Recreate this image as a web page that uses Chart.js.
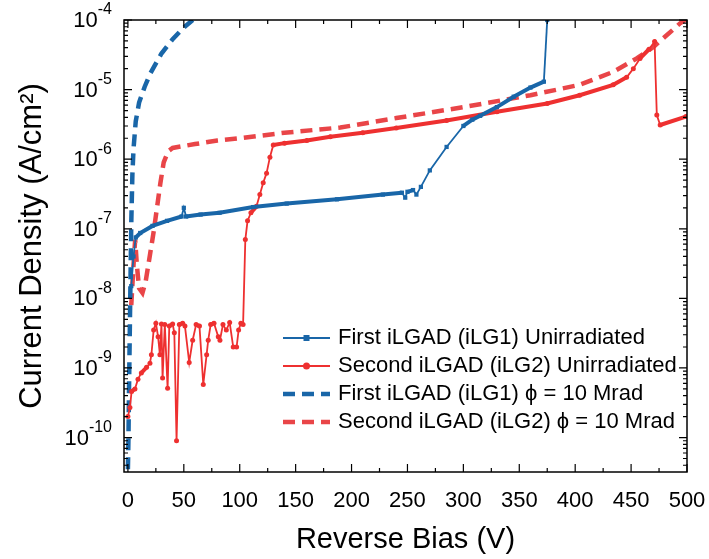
<!DOCTYPE html>
<html>
<head>
<meta charset="utf-8">
<script src="https://cdn.jsdelivr.net/npm/chart.js@4.4.1/dist/chart.umd.min.js"></script>
<style>
  body { margin: 0; background: #fff; }
</style>
</head>
<body>
<canvas id="ivCurve" width="709" height="559"></canvas>
<script>
// tick values
const xTicks = [0, 50, 100, 150, 200, 250, 300, 350, 400, 450, 500];
const yExps  = [-10, -9, -8, -7, -6, -5, -4];

// First iLGAD (iLG1) Unirradiated
const biasFirst = [3, 5, 7, 11, 22, 35, 48, 50, 52, 65, 82, 112, 142, 187, 228, 245, 248, 250, 255, 258, 262,
                   270, 285, 300, 308, 315, 330, 345, 360, 372, 375];
const currFirst = [1.5e-8, 4e-8, 7.5e-8, 8.7e-8, 1.1e-7, 1.3e-7, 1.5e-7, 2e-7, 1.5e-7, 1.6e-7, 1.7e-7, 2.05e-7,
                   2.3e-7, 2.65e-7, 3.1e-7, 3.3e-7, 2.8e-7, 3.4e-7, 3.6e-7, 3.1e-7, 4e-7,
                   6.9e-7, 1.5e-6, 3.0e-6, 3.7e-6, 4.2e-6, 5.6e-6, 7.9e-6, 1.07e-5, 1.3e-5, 1e-4];

// Second iLGAD (iLG2) Unirradiated
const biasSecond = [0, 1.8, 3.3, 6.3, 9, 12, 16.7, 19.7, 21, 23, 25, 27, 28.6, 30, 31, 33, 35.5, 37, 40, 41.5,
                    43.5, 46, 49, 51, 54.8, 57.9, 61, 64, 67.4, 70.4, 71.8, 74, 77, 80.8, 82.3, 85, 88, 91,
                    94.2, 97.2, 99, 101, 103, 105, 107, 110, 115, 118, 121, 124, 127, 130, 140, 160, 181,
                    210, 240, 285, 330, 375, 404, 434, 446, 452, 458, 466, 471, 473, 476, 499];
const currSecond = [2e-10, 2.7e-10, 4.6e-10, 5e-10, 6.9e-10, 8.5e-10, 1.02e-9, 1.17e-9, 1.55e-9, 3.5e-9, 4.4e-9,
                    2.8e-9, 1.55e-9, 4.3e-9, 7.2e-10, 4.2e-9, 5.1e-10, 4e-9, 4.3e-9, 3.2e-9,
                    9e-11, 4.2e-9, 4.4e-9, 4e-9, 1.2e-9, 2.5e-9, 4.2e-9, 4e-9, 5.8e-10, 1.55e-9, 2.5e-9,
                    4.2e-9, 4.4e-9, 2.8e-9, 2.5e-9, 4.2e-9, 3.5e-9, 4.5e-9,
                    2e-9, 2e-9, 3.5e-9, 4.4e-9, 4.2e-9, 7e-8, 1.3e-7, 1.7e-7, 2.1e-7, 3.1e-7, 4.6e-7, 6.3e-7,
                    1.07e-6, 1.6e-6, 1.7e-6, 1.85e-6, 2.1e-6,
                    2.4e-6, 2.8e-6, 3.6e-6, 4.8e-6, 6.3e-6, 8.3e-6, 1.17e-5, 1.5e-5, 2e-5, 2.8e-5, 3.8e-5,
                    4.9e-5, 4.3e-6, 3.1e-6, 4.1e-6];

// First iLGAD (iLG1) 10 Mrad
const biasFirstIrr = [0, 0.5, 1, 1.5, 2, 2.5, 3, 4, 5, 7, 10, 15, 20, 30, 40, 50, 58];
const currFirstIrr = [3.5e-11, 1e-10, 5e-10, 2e-9, 8e-9, 3e-8, 1.2e-7, 6e-7, 1.4e-6, 3.5e-6, 6.5e-6, 1.1e-5,
                      1.7e-5, 3.3e-5, 5.3e-5, 7.8e-5, 1e-4];

// Second iLGAD (iLG2) 10 Mrad
const biasSecondIrr = [3, 5, 6.5, 8, 10, 13, 16, 20, 23, 26, 29, 32, 36, 40, 60, 80, 100, 140, 190, 240, 300,
                       360, 404, 434, 455, 470, 494, 500];
const currSecondIrr = [8e-9, 3e-8, 7e-8, 3e-8, 1.4e-8, 1.2e-8, 1.8e-8, 4.5e-8, 9e-8, 2e-7, 4.5e-7, 9e-7,
                       1.3e-6, 1.45e-6, 1.65e-6, 1.85e-6, 2.0e-6, 2.4e-6, 2.85e-6, 3.9e-6, 5.6e-6,
                       8.3e-6, 1.17e-5, 1.8e-5, 2.8e-5, 4.1e-5, 9e-5, 1.05e-4];

const BLUE = '#1966a8';
const RED = '#ee3030';
const RED_DASH = '#e94548';
const FONT = '"Liberation Sans", Arial, sans-serif';

Chart.defaults.font.family = FONT;
Chart.defaults.color = '#000';

function pairs(xs, ys) {
  return xs.map((v, i) => ({ x: v, y: ys[i] }));
}

// dense measured points look like a thick line where the curve is flat
const flatThick = {
  borderWidth: c => {
    const dx = Math.abs(c.p1.x - c.p0.x), dy = Math.abs(c.p1.y - c.p0.y);
    return dy > dx * 1.2 ? 1.8 : 4;
  }
};

// box with inward ticks on all sides, and 10^n labels
const axesBox = {
  id: 'axesBox',
  afterDraw(chart) {
    const { ctx, chartArea: a, scales: { x, y } } = chart;
    ctx.save();
    ctx.strokeStyle = '#000';
    ctx.lineWidth = 1.5;
    ctx.strokeRect(a.left, a.top, a.right - a.left, a.bottom - a.top);

    ctx.lineWidth = 1.2;
    ctx.beginPath();
    xTicks.forEach(v => {
      let px = x.getPixelForValue(v);
      ctx.moveTo(px, a.bottom); ctx.lineTo(px, a.bottom - 8);
      ctx.moveTo(px, a.top); ctx.lineTo(px, a.top + 8);
      if (v + 25 <= x.max) {
        px = x.getPixelForValue(v + 25);
        ctx.moveTo(px, a.bottom); ctx.lineTo(px, a.bottom - 4);
        ctx.moveTo(px, a.top); ctx.lineTo(px, a.top + 4);
      }
    });
    for (let e = -11; e <= -4; e++) {
      for (let m = 1; m <= 9; m++) {
        const v = m * Math.pow(10, e);
        if (v < y.min || v > y.max * 1.0001) continue;
        const py = y.getPixelForValue(v);
        const len = m === 1 ? 8 : 4;
        ctx.moveTo(a.left, py); ctx.lineTo(a.left + len, py);
        ctx.moveTo(a.right, py); ctx.lineTo(a.right - len, py);
      }
    }
    ctx.stroke();

    ctx.fillStyle = '#000';
    ctx.textBaseline = 'middle';
    ctx.textAlign = 'left';
    const right = a.left - 12;
    yExps.forEach(e => {
      const py = y.getPixelForValue(Math.pow(10, e));
      const sup = String(e);
      ctx.font = '16px ' + FONT;
      const wSup = ctx.measureText(sup).width;
      ctx.font = '22px ' + FONT;
      const wBase = ctx.measureText('10').width;
      ctx.fillText('10', right - wSup - wBase, py + 1);
      ctx.font = '16px ' + FONT;
      ctx.fillText(sup, right - wSup, py - 10);
    });
    ctx.restore();
  }
};

// legend drawn inside the plot area
const insideLegend = {
  id: 'insideLegend',
  afterDraw(chart, args, opts) {
    const ctx = chart.ctx;
    ctx.save();
    chart.data.datasets.forEach((ds, i) => {
      const yc = opts.top + i * opts.rowHeight;
      ctx.strokeStyle = ds.borderColor;
      ctx.lineWidth = ds.borderWidth;
      ctx.setLineDash(ds.borderDash || []);
      ctx.beginPath();
      ctx.moveTo(opts.left, yc);
      ctx.lineTo(opts.left + opts.sample, yc);
      ctx.stroke();
      ctx.setLineDash([]);
      if (ds.pointRadius > 0) {
        ctx.fillStyle = ds.borderColor;
        const cx = opts.left + opts.sample / 2;
        ctx.beginPath();
        if (ds.pointStyle === 'rect') ctx.rect(cx - 3, yc - 3, 6, 6);
        else ctx.arc(cx, yc, 3.5, 0, Math.PI * 2);
        ctx.fill();
      }
      ctx.fillStyle = '#000';
      ctx.font = opts.fontSize + 'px ' + FONT;
      ctx.textBaseline = 'middle';
      ctx.fillText(ds.label, opts.left + opts.sample + 8, yc);
    });
    ctx.restore();
  }
};

new Chart(document.getElementById('ivCurve'), {
  type: 'scatter',
  data: {
    datasets: [
      {
        label: 'First iLGAD (iLG1) Unirradiated',
        data: pairs(biasFirst, currFirst),
        showLine: true,
        borderColor: BLUE,
        backgroundColor: BLUE,
        borderWidth: 2,
        segment: flatThick,
        pointStyle: 'rect',
        pointRadius: 3,
        pointBorderWidth: 0
      },
      {
        label: 'Second iLGAD (iLG2) Unirradiated',
        data: pairs(biasSecond, currSecond),
        showLine: true,
        borderColor: RED,
        backgroundColor: RED,
        borderWidth: 2,
        segment: flatThick,
        pointStyle: 'circle',
        pointRadius: 2.5,
        pointBorderWidth: 0
      },
      {
        label: 'First iLGAD (iLG1) \u03d5 = 10 Mrad',
        data: pairs(biasFirstIrr, currFirstIrr),
        showLine: true,
        borderColor: BLUE,
        borderWidth: 4.5,
        borderDash: [12, 7],
        pointRadius: 0
      },
      {
        label: 'Second iLGAD (iLG2) \u03d5 = 10 Mrad',
        data: pairs(biasSecondIrr, currSecondIrr),
        showLine: true,
        borderColor: RED_DASH,
        borderWidth: 4.5,
        borderDash: [12, 7],
        pointRadius: 0
      }
    ]
  },
  options: {
    responsive: false,
    animation: false,
    layout: { padding: { top: 20, right: 22, left: 0, bottom: 0 } },
    plugins: {
      legend: { display: false },
      tooltip: { enabled: false },
      insideLegend: { left: 283, top: 338, rowHeight: 28, sample: 47, fontSize: 22 }
    },
    scales: {
      x: {
        type: 'linear',
        min: -3.5,
        max: 500,
        grid: { display: false, drawTicks: false },
        border: { display: false },
        ticks: { padding: 16, font: { size: 22 }, color: '#000', maxRotation: 0, autoSkip: false },
        afterBuildTicks: s => { s.ticks = xTicks.map(v => ({ value: v })); },
        afterFit: s => { s.height = 87; s.paddingLeft = 0; s.paddingRight = 0; },
        title: { display: true, text: 'Reverse Bias (V)', font: { size: 29 }, color: '#000', padding: { top: 0, bottom: 2 } }
      },
      y: {
        type: 'logarithmic',
        min: 3.2e-11,
        max: 1e-4,
        grid: { display: false, drawTicks: false },
        border: { display: false },
        ticks: { display: false },
        afterBuildTicks: s => { s.ticks = yExps.map(e => ({ value: Math.pow(10, e) })); },
        afterFit: s => { s.width = 124; s.paddingTop = 0; s.paddingBottom = 0; },
        title: { display: true, text: 'Current Density (A/cm\u00b2)', font: { size: 31 }, color: '#000', padding: { top: 14, bottom: 0 } }
      }
    }
  },
  plugins: [axesBox, insideLegend]
});
</script>
</body>
</html>
